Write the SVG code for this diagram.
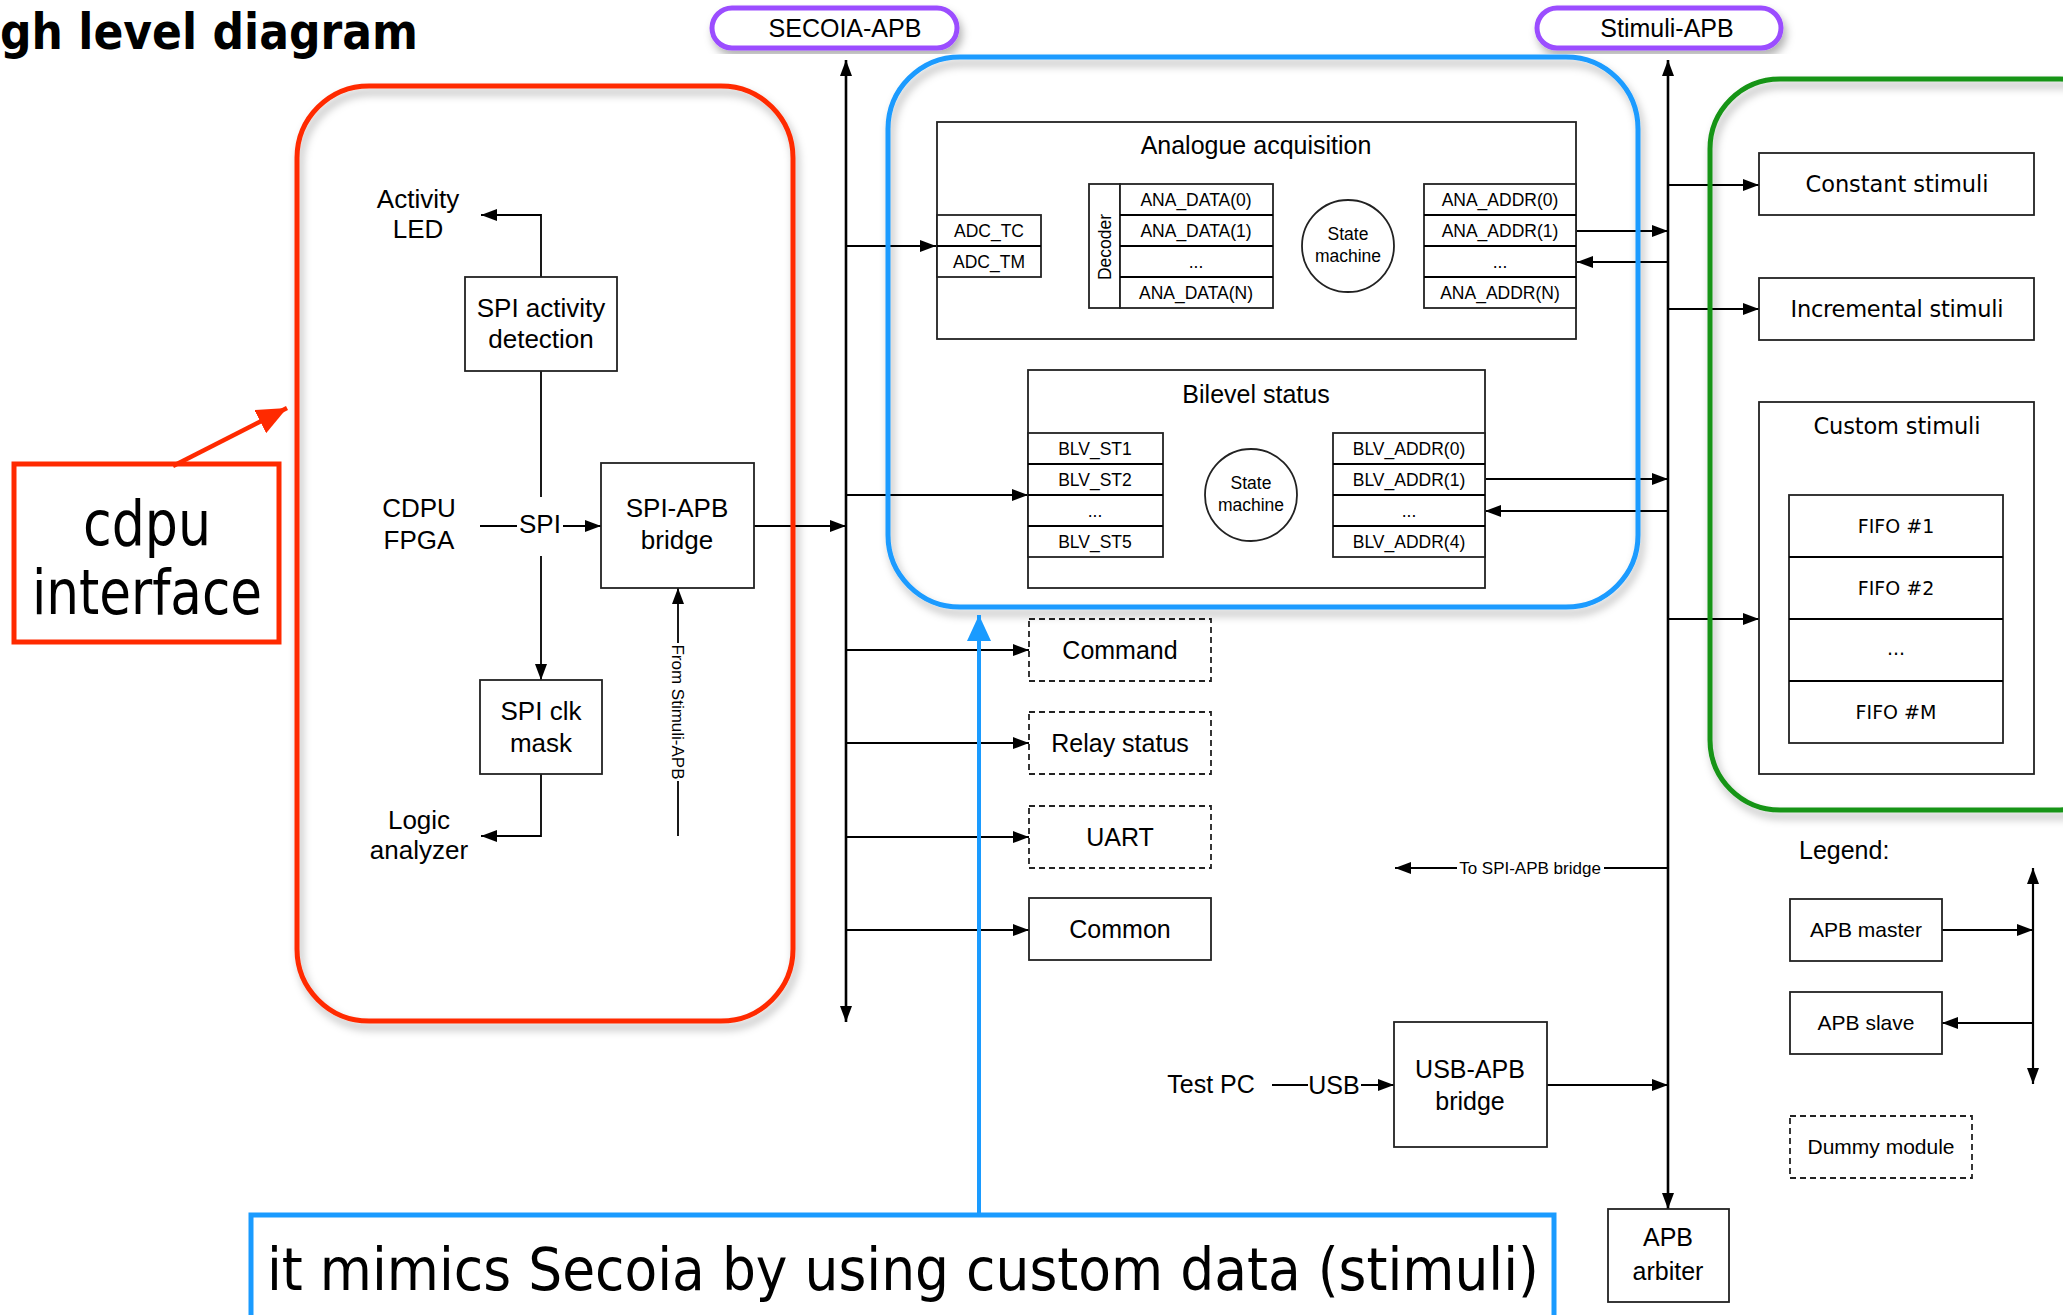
<svg xmlns="http://www.w3.org/2000/svg" width="2063" height="1315" viewBox="0 0 2063 1315">
<defs>
<marker id="a" markerUnits="userSpaceOnUse" markerWidth="16" markerHeight="12" refX="16" refY="6" orient="auto-start-reverse"><path d="M0,0L16,6L0,12z" fill="#000"/></marker>
<marker id="ab" markerUnits="userSpaceOnUse" markerWidth="26" markerHeight="24" refX="26" refY="12" orient="auto"><path d="M0,0L26,12L0,24z" fill="#1a9bff"/></marker>
<marker id="ar" markerUnits="userSpaceOnUse" markerWidth="30" markerHeight="26" refX="30" refY="13" orient="auto"><path d="M0,0L30,13L0,26z" fill="#ff2a00"/></marker>
<filter id="sh" x="-10%" y="-10%" width="125%" height="125%"><feDropShadow dx="3" dy="6" stdDeviation="4" flood-color="#000" flood-opacity="0.3"/></filter>
</defs>
<style>
text{font-family:"Liberation Sans",Arial,sans-serif;fill:#000}
.c{text-anchor:middle}
.f26{font-size:26px}
.f25{font-size:25px}
.f21{font-size:21px}
.f17{font-size:17.5px}
.v{font-family:"DejaVu Sans",Verdana,sans-serif}
.vc{font-family:"DejaVu Sans Condensed","DejaVu Sans",sans-serif;font-stretch:condensed}
.box{fill:#fff;stroke:#222;stroke-width:1.8}
.dash{fill:#fff;stroke:#222;stroke-width:1.8;stroke-dasharray:6 4}
.ln{fill:none;stroke:#000;stroke-width:1.8}
.arr{marker-end:url(#a)}
.bus{fill:none;stroke:#000;stroke-width:2.6;marker-start:url(#a);marker-end:url(#a)}
.grp{fill:none;stroke-width:5;filter:url(#sh)}
</style>
<rect width="2063" height="1315" fill="#fff"/>
<text x="0" y="49" style="font-family:'DejaVu Sans',Verdana,sans-serif;font-weight:bold;font-size:50px" textLength="418" lengthAdjust="spacingAndGlyphs">gh level diagram</text>

<g id="connectors">
<line class="bus" x1="846" y1="60" x2="846" y2="1022"/>
<line class="bus" x1="1668" y1="60" x2="1668" y2="1209"/>
<path class="ln arr" d="M541,277V215H481"/>
<path class="ln" d="M541,371V497"/>
<path class="ln arr" d="M541,556V680"/>
<path class="ln" d="M480,526H517"/>
<path class="ln arr" d="M563,526H601"/>
<path class="ln arr" d="M754,526H846"/>
<path class="ln" d="M678,836V781"/>
<path class="ln arr" d="M678,643V588"/>
<path class="ln arr" d="M541,774V836H481"/>
<path class="ln arr" d="M846,246H936"/>
<path class="ln arr" d="M1041,231H1089"/>
<path class="ln arr" d="M1089,262H1041"/>
<path class="ln arr" d="M1577,231H1668"/>
<path class="ln arr" d="M1668,262H1577"/>
<path class="ln arr" d="M846,495H1028"/>
<path class="ln arr" d="M1485,479H1668"/>
<path class="ln arr" d="M1668,511H1485"/>
<path class="ln arr" d="M846,650H1029"/>
<path class="ln arr" d="M846,743H1029"/>
<path class="ln arr" d="M846,837H1029"/>
<path class="ln arr" d="M846,930H1029"/>
<path class="ln" d="M1668,868H1604"/>
<path class="ln arr" d="M1457,868H1395"/>
<path class="ln" d="M1272,1085H1308"/>
<path class="ln arr" d="M1361,1085H1394"/>
<path class="ln arr" d="M1547,1085H1668"/>
<path class="ln arr" d="M1668,185H1759"/>
<path class="ln arr" d="M1668,309H1759"/>
<path class="ln arr" d="M1668,619H1759"/>
<line class="bus" x1="2033" y1="868" x2="2033" y2="1084" style="stroke-width:2.2"/>
<path class="ln arr" d="M1942,930H2033"/>
<path class="ln arr" d="M2033,1023H1942"/>
</g>

<g id="labels">
<text class="c f26" x="418" y="208">Activity</text>
<text class="c f26" x="418" y="238">LED</text>
<text class="c f26" x="419" y="517">CDPU</text>
<text class="c f26" x="419" y="549">FPGA</text>
<text class="c f26" x="540" y="533">SPI</text>
<text class="c f26" x="419" y="829">Logic</text>
<text class="c f26" x="419" y="859">analyzer</text>
<text class="c" style="font-size:17px" transform="translate(672,712) rotate(90)">From Stimuli-APB</text>
<text class="c" style="font-size:17px" x="1530" y="874">To SPI-APB bridge</text>
<text class="c f25" x="1211" y="1093">Test PC</text>
<text class="c f25" x="1334" y="1094">USB</text>
<text class="f25" x="1799" y="859">Legend:</text>
</g>

<g id="spi-activity"><rect class="box" x="465" y="277" width="152" height="94"/><text class="c f26" x="541" y="317">SPI activity</text><text class="c f26" x="541" y="348">detection</text></g>
<g id="spi-apb-bridge"><rect class="box" x="601" y="463" width="153" height="125"/><text class="c f26" x="677" y="517">SPI-APB</text><text class="c f26" x="677" y="549">bridge</text></g>
<g id="spi-clk-mask"><rect class="box" x="480" y="680" width="122" height="94"/><text class="c f26" x="541" y="720">SPI clk</text><text class="c f26" x="541" y="752">mask</text></g>

<g id="analogue">
<rect class="box" x="937" y="122" width="639" height="217"/>
<text class="c f25" x="1256" y="154">Analogue acquisition</text>
<rect class="box" x="937" y="215" width="104" height="62"/><line class="ln" x1="937" y1="246" x2="1041" y2="246"/>
<text class="c f17" x="989" y="236.5">ADC_TC</text><text class="c f17" x="989" y="267.5">ADC_TM</text>
<rect class="box" x="1089" y="184" width="31" height="124"/>
<text class="c f17" transform="translate(1110.5,247) rotate(-90)">Decoder</text>
<rect class="box" x="1120" y="184" width="153" height="124"/>
<path class="ln" d="M1120,215H1273M1120,246H1273M1120,277H1273"/>
<text class="c f17" x="1196" y="205.5">ANA_DATA(0)</text><text class="c f17" x="1196" y="236.5">ANA_DATA(1)</text><text class="c f17" x="1196" y="267.5">...</text><text class="c f17" x="1196" y="298.5">ANA_DATA(N)</text>
<circle class="box" cx="1348" cy="246" r="46"/>
<text class="c f17" x="1348" y="240">State</text><text class="c f17" x="1348" y="262">machine</text>
<rect class="box" x="1424" y="184" width="152" height="124"/>
<path class="ln" d="M1424,215H1576M1424,246H1576M1424,277H1576"/>
<text class="c f17" x="1500" y="205.5">ANA_ADDR(0)</text><text class="c f17" x="1500" y="236.5">ANA_ADDR(1)</text><text class="c f17" x="1500" y="267.5">...</text><text class="c f17" x="1500" y="298.5">ANA_ADDR(N)</text>
</g>

<g id="bilevel">
<rect class="box" x="1028" y="370" width="457" height="218"/>
<text class="c f25" x="1256" y="403">Bilevel status</text>
<rect class="box" x="1028" y="433" width="135" height="124"/>
<path class="ln" d="M1028,464H1163M1028,495H1163M1028,526H1163"/>
<text class="c f17" x="1095" y="454.5">BLV_ST1</text><text class="c f17" x="1095" y="485.5">BLV_ST2</text><text class="c f17" x="1095" y="516.5">...</text><text class="c f17" x="1095" y="547.5">BLV_ST5</text>
<circle class="box" cx="1251" cy="495" r="46"/>
<text class="c f17" x="1251" y="489">State</text><text class="c f17" x="1251" y="511">machine</text>
<rect class="box" x="1333" y="433" width="152" height="124"/>
<path class="ln" d="M1333,464H1485M1333,495H1485M1333,526H1485"/>
<text class="c f17" x="1409" y="454.5">BLV_ADDR(0)</text><text class="c f17" x="1409" y="485.5">BLV_ADDR(1)</text><text class="c f17" x="1409" y="516.5">...</text><text class="c f17" x="1409" y="547.5">BLV_ADDR(4)</text>
</g>

<g id="command"><rect class="dash" x="1029" y="619" width="182" height="62"/><text class="c f25" x="1120" y="659">Command</text></g>
<g id="relay-status"><rect class="dash" x="1029" y="712" width="182" height="62"/><text class="c f25" x="1120" y="752">Relay status</text></g>
<g id="uart"><rect class="dash" x="1029" y="806" width="182" height="62"/><text class="c f25" x="1120" y="846">UART</text></g>
<g id="common"><rect class="box" x="1029" y="898" width="182" height="62"/><text class="c f25" x="1120" y="938">Common</text></g>

<g id="usb-apb-bridge"><rect class="box" x="1394" y="1022" width="153" height="125"/><text class="c f25" x="1470" y="1078">USB-APB</text><text class="c f25" x="1470" y="1110">bridge</text></g>
<g id="apb-arbiter"><rect class="box" x="1608" y="1209" width="121" height="93"/><text class="c f25" x="1668" y="1246">APB</text><text class="c f25" x="1668" y="1280">arbiter</text></g>

<g id="constant-stimuli"><rect class="box" x="1759" y="153" width="275" height="62"/><text class="c v" style="font-size:22.5px" x="1897" y="192" textLength="183">Constant stimuli</text></g>
<g id="incremental-stimuli"><rect class="box" x="1759" y="278" width="275" height="62"/><text class="c v" style="font-size:22.5px" x="1897" y="317" textLength="213">Incremental stimuli</text></g>
<g id="custom-stimuli">
<rect class="box" x="1759" y="402" width="275" height="372"/>
<text class="c v" style="font-size:22.5px" x="1897" y="434" textLength="167">Custom stimuli</text>
<rect class="box" x="1789" y="495" width="214" height="248"/>
<path class="ln" d="M1789,557H2003M1789,619H2003M1789,681H2003"/>
<text class="c v" style="font-size:19px" x="1896" y="533">FIFO #1</text>
<text class="c v" style="font-size:19px" x="1896" y="595">FIFO #2</text>
<text class="c v" style="font-size:19px" x="1896" y="655">...</text>
<text class="c v" style="font-size:19px" x="1896" y="719">FIFO #M</text>
</g>

<g id="legend-master"><rect class="box" x="1790" y="899" width="152" height="62"/><text class="c f21" x="1866" y="937">APB master</text></g>
<g id="legend-slave"><rect class="box" x="1790" y="992" width="152" height="62"/><text class="c f21" x="1866" y="1030">APB slave</text></g>
<g id="legend-dummy"><rect class="dash" x="1790" y="1116" width="182" height="62"/><text class="c f21" x="1881" y="1154">Dummy module</text></g>

<g id="cdpu-group"><rect class="grp" x="297" y="86" width="496" height="935" rx="72" stroke="#ff2a00"/></g>
<g id="secoia-group"><rect class="grp" x="888" y="57" width="750" height="550" rx="72" stroke="#1a9bff"/></g>
<g id="stimuli-group"><rect class="grp" x="1710" y="79" width="420" height="731" rx="70" stroke="#149414"/></g>

<g id="secoia-apb"><rect x="712" y="8" width="245" height="40" rx="20" fill="#fff" stroke="#9b4dff" stroke-width="5" filter="url(#sh)"/><text class="c f25" x="845" y="37">SECOIA-APB</text></g>
<g id="stimuli-apb"><rect x="1537" y="8" width="244" height="40" rx="20" fill="#fff" stroke="#9b4dff" stroke-width="5" filter="url(#sh)"/><text class="c f25" x="1667" y="37">Stimuli-APB</text></g>

<g id="cdpu-interface">
<rect x="14" y="464" width="265" height="178" fill="#fff" stroke="#ff2a00" stroke-width="5"/>
<text class="c vc" style="font-size:62px" x="147" y="545" textLength="128" lengthAdjust="spacingAndGlyphs">cdpu</text>
<text class="c vc" style="font-size:62px" x="147" y="614" textLength="230" lengthAdjust="spacingAndGlyphs">interface</text>
<line x1="173" y1="466" x2="287" y2="408" stroke="#ff2a00" stroke-width="4.5" marker-end="url(#ar)"/>
</g>

<g id="callout">
<line x1="979" y1="1216" x2="979" y2="615" stroke="#1a9bff" stroke-width="4" marker-end="url(#ab)"/>
<rect x="251" y="1215" width="1303" height="110" fill="#fff" stroke="#1a9bff" stroke-width="5"/>
<text class="vc" style="font-size:59px" x="267" y="1290" textLength="1272" lengthAdjust="spacingAndGlyphs">it mimics Secoia by using custom data (stimuli)</text>
</g>
</svg>
